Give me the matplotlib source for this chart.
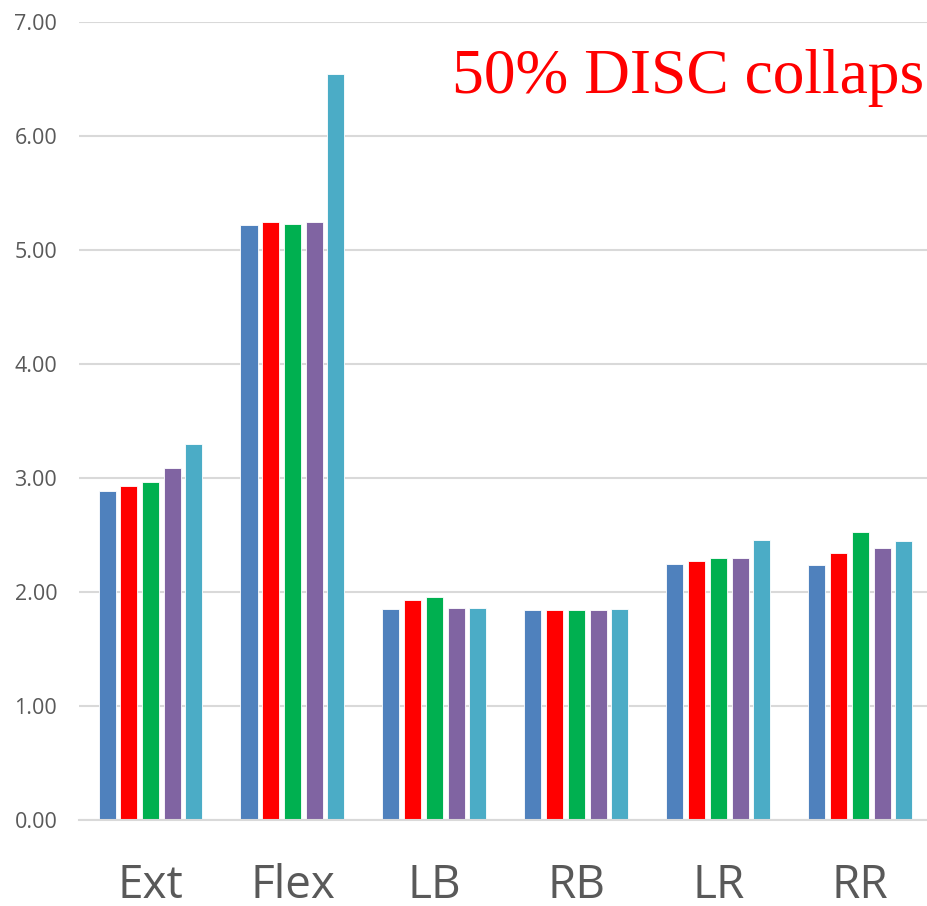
import matplotlib
matplotlib.use("Agg")
import matplotlib.pyplot as plt
import numpy as np

categories = ["Ext", "Flex", "LB", "RB", "LR", "RR"]
series1 = [2.89, 5.22, 1.85, 1.845, 2.25, 2.24]
series2 = [2.93, 5.25, 1.93, 1.845, 2.27, 2.34]
series3 = [2.965, 5.23, 1.96, 1.845, 2.30, 2.53]
series4 = [3.09, 5.245, 1.86, 1.845, 2.30, 2.39]
series5 = [3.30, 6.545, 1.86, 1.855, 2.46, 2.45]
y_ticks = [0, 1, 2, 3, 4, 5, 6, 7]
title_text = "50% DISC collaps"

colors = ["#4F81BD", "#FF0000", "#00B050", "#8064A2", "#4BACC6"]
all_series = [series1, series2, series3, series4, series5]

fig = plt.figure(figsize=(9.28, 9.06), dpi=100)
ax = fig.add_axes([79.5 / 928, 86 / 906, (931.3 - 79.5) / 928, 798 / 906])

x = np.arange(len(categories))
pitch = 0.153
width = 0.12
for i, (vals, c) in enumerate(zip(all_series, colors)):
    ax.bar(x + (i - 2) * pitch, vals, width=width, color=c,
           edgecolor="white", linewidth=0.6, zorder=3)

ax.set_xlim(-0.5, len(categories) - 0.5)
ax.set_ylim(0, 7)
ax.set_yticks(y_ticks)
ax.set_yticklabels([f"{v:.2f}" for v in y_ticks])
ax.set_xticks(x)
ax.set_xticklabels(categories)

ax.yaxis.grid(True, color="#D9D9D9", linewidth=1.5, zorder=0)
ax.set_axisbelow(True)
for s in ["left", "right", "top"]:
    ax.spines[s].set_visible(False)
ax.spines["bottom"].set_color("#D9D9D9")
ax.spines["bottom"].set_linewidth(1.5)
ax.spines["bottom"].set_zorder(4)

ax.tick_params(axis="y", length=0, pad=16, labelsize=15.5, labelcolor="#595959")
ax.tick_params(axis="x", length=0, pad=31, labelsize=33, labelcolor="#595959")
for lab in ax.get_xticklabels() + ax.get_yticklabels():
    lab.set_fontfamily("Open Sans")

fig.text(452 / 928, 1 - 93 / 906, title_text, color="#FF0000",
         fontsize=45.7, family="Liberation Serif", ha="left", va="baseline")

fig.savefig("out.png", dpi=100)
